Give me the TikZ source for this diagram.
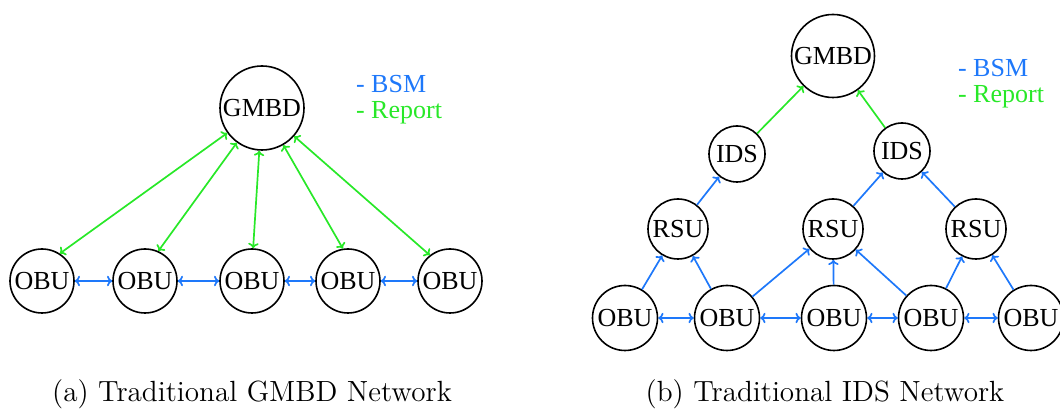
\documentclass[tikz,border=0pt]{standalone}
\usepackage{fontspec}
\usetikzlibrary{arrows.meta}
\newfontfamily\timesfont{Liberation Serif}
\definecolor{bsmblue}{RGB}{30,120,250}
\definecolor{reportgreen}{RGB}{40,232,40}
\newcommand{\labelfont}{\timesfont\fontsize{13}{15}\selectfont}
\newcommand{\capfont}{\fontsize{14.6}{17}\selectfont}
\begin{document}
\begin{tikzpicture}[x=0.5pt, y=-0.5pt, >={To[length=2.6pt,width=5.2pt]},
    unit/.style={draw, circle, inner sep=0pt, line width=0.8pt, font=\labelfont},
    bsm/.style={draw=bsmblue, line width=0.85pt},
    report/.style={draw=reportgreen, line width=0.85pt}]
                \useasboundingbox (0,0) rectangle (1060,416);
                % (a) traditional GMBD network
                \node [unit, minimum size=42pt] (ga) at (262,108) {GMBD};
                \node [unit, minimum size=32pt] (a1) at (42,281) {OBU};
                \node [unit, minimum size=32pt] (a2) at (145,281) {OBU};
                \node [unit, minimum size=32pt] (a3) at (252,281) {OBU};
                \node [unit, minimum size=32pt] (a4) at (348,281) {OBU};
                \node [unit, minimum size=32pt] (a5) at (450,281) {OBU};
                \node [anchor=base west, font=\labelfont, text=bsmblue] (la) at (349,93) {- BSM};
                \node [anchor=base west, font=\labelfont, text=reportgreen] (lb) at (349,119) {- Report};
                \draw [<->, report] (ga) -- (a1.57);
                \draw [<->, report] (ga) -- (a2.66);
                \draw [<->, report] (ga) -- (a3.88);
                \draw [<->, report] (ga) -- (a4.99);
                \draw [<->, report] (ga) -- (a5.128);
                \draw [<->, bsm] (a1) -- (a2);
                \draw [<->, bsm] (a2) -- (a3);
                \draw [<->, bsm] (a3) -- (a4);
                \draw [<->, bsm] (a4) -- (a5);
                \node [anchor=base, font=\capfont] (ca) at (252,402) {(a) Traditional GMBD Network};
                % (b) traditional IDS network
                \node [unit, minimum size=41.5pt] (gb) at (833,56) {GMBD};
                \node [unit, minimum size=28pt] (i1) at (737,154) {IDS};
                \node [unit, minimum size=28pt] (i2) at (902,151) {IDS};
                \node [unit, minimum size=30pt] (r1) at (678,229) {RSU};
                \node [unit, minimum size=30pt] (r2) at (833,229) {RSU};
                \node [unit, minimum size=30pt] (r3) at (976,229) {RSU};
                \node [unit, minimum size=32.5pt] (b1) at (625,318) {OBU};
                \node [unit, minimum size=32.5pt] (b2) at (727,318) {OBU};
                \node [unit, minimum size=32.5pt] (b3) at (834,318) {OBU};
                \node [unit, minimum size=32.5pt] (b4) at (931,318) {OBU};
                \node [unit, minimum size=32.5pt] (b5) at (1031,318) {OBU};
                \node [anchor=base west, font=\labelfont, text=bsmblue] (lc) at (951,77) {- BSM};
                \node [anchor=base west, font=\labelfont, text=reportgreen] (ld) at (951,103) {- Report};
                \draw [->, report] (i1) -- (gb);
                \draw [->, report] (i2) -- (gb);
                \draw [->, bsm] (r1) -- (i1);
                \draw [->, bsm] (r2) -- (i2);
                \draw [->, bsm] (r3) -- (i2);
                \draw [->, bsm] (b1) -- (r1);
                \draw [->, bsm] (b2) -- (r1);
                \draw [->, bsm] (b2) -- (r2);
                \draw [->, bsm] (b3) -- (r2);
                \draw [->, bsm] (b4) -- (r2);
                \draw [->, bsm] (b4) -- (r3);
                \draw [->, bsm] (b5) -- (r3);
                \draw [<->, bsm] (b1) -- (b2);
                \draw [<->, bsm] (b2) -- (b3);
                \draw [<->, bsm] (b3) -- (b4);
                \draw [<->, bsm] (b4) -- (b5);
                \node [anchor=base, font=\capfont] (cb) at (825,402) {(b) Traditional IDS Network};
\end{tikzpicture}
\end{document}
